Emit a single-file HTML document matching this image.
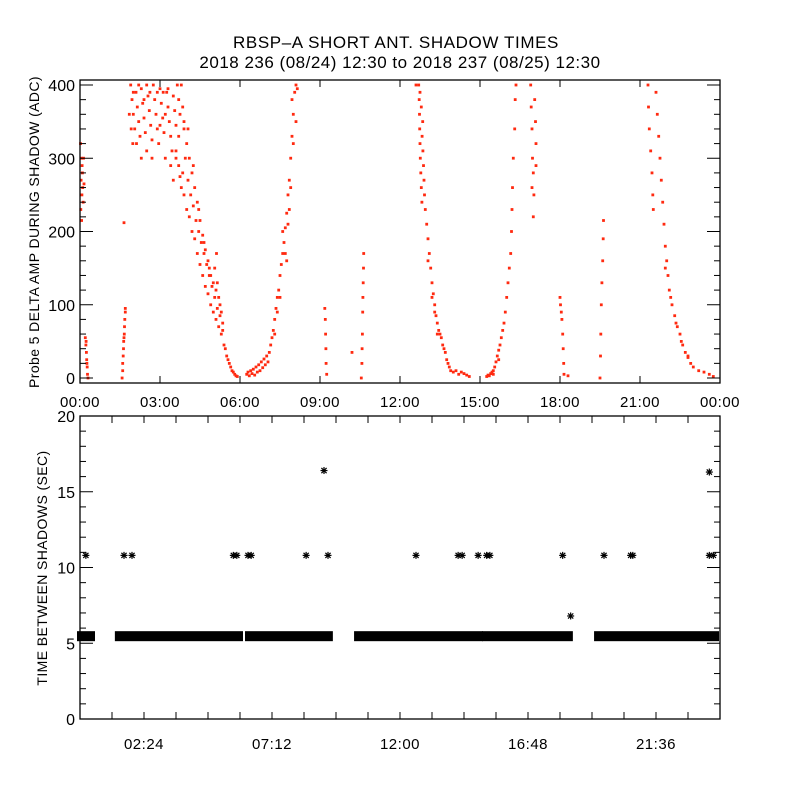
<!DOCTYPE html>
<html><head><meta charset="utf-8">
<style>
html,body{margin:0;padding:0;background:#fff;}
svg{display:block;font-family:"Liberation Sans",sans-serif;}
</style></head>
<body>
<svg id="chart" width="800" height="800" viewBox="0 0 800 800" xmlns="http://www.w3.org/2000/svg">
<rect width="800" height="800" fill="#fff"/>
<text x="396" y="48" font-size="17" text-anchor="middle" letter-spacing="0.6">RBSP–A SHORT ANT. SHADOW TIMES</text>
<text x="400" y="68" font-size="17" text-anchor="middle" letter-spacing="0.5">2018 236 (08/24) 12:30 to 2018 237 (08/25) 12:30</text>
<g id="top"></g>
<g id="bot"></g>
<text transform="translate(39,232) rotate(-90)" font-size="14" text-anchor="middle" letter-spacing="0.4">Probe 5 DELTA AMP DURING SHADOW (ADC)</text>
<text transform="translate(47,568) rotate(-90)" font-size="14" text-anchor="middle" letter-spacing="0.4">TIME BETWEEN SHADOWS (SEC)</text>
</svg>
<script>
// ---- top panel data: [hour, ADC value] ----
const ampPoints = [
[0.02,320],[0.05,300],[0.08,290],[0.04,270],[0.1,260],[0.07,250],[0.12,240],[0.03,230],[0.09,280],[0.13,300],[0.15,265],[0.06,215],
[0.2,55],[0.22,45],[0.24,35],[0.25,25],[0.27,15],[0.28,5],[0.3,0],[0.23,50],[0.26,20],
[1.58,0],[1.6,10],[1.6,20],[1.62,30],[1.63,40],[1.64,50],[1.66,60],[1.67,70],[1.68,80],[1.7,90],[1.7,95],[1.65,55],
[1.9,400],[1.95,380],[2.0,360],[2.05,340],[1.98,320],[2.1,390],[2.15,370],[2.2,350],[2.25,330],[2.3,395],[2.35,375],[2.4,355],[2.45,335],[2.5,310],[2.55,385],[2.6,365],[2.65,345],[2.7,325],[2.75,400],[2.8,380],[2.85,360],[2.9,340],[2.95,320],[3.0,395],[3.05,375],[3.1,355],[3.15,335],[3.2,300],[3.25,390],[3.3,370],[3.35,350],[3.4,330],[3.45,310],[3.5,385],[3.55,365],[3.6,345],[3.65,400],[3.7,380],[3.75,360],[2.3,300],[2.0,390],[2.5,400],[3.0,345],[3.4,290],[3.5,270],[3.6,300],[3.7,330],[3.8,400],[3.85,370],[3.9,340],[2.7,300],[2.2,400],[1.92,340],[2.4,380],[2.9,390],[3.2,360],[3.3,395],[1.85,360],[2.12,320],[2.62,390],[3.12,390],[1.65,212],
[3.6,310],[3.7,290],[3.75,275],[3.8,260],[3.85,280],[3.9,250],[3.95,300],[4.0,230],[4.05,270],[4.1,220],[4.15,250],[4.2,200],[4.25,235],[4.3,190],[4.35,215],[4.4,170],[4.45,200],[4.5,155],[4.55,185],[4.6,140],[4.65,170],[4.7,125],[4.75,155],[4.8,115],[4.85,140],[4.9,100],[4.95,125],[5.0,90],[5.05,110],[5.1,80],[5.15,95],[5.2,70],[5.25,85],[5.3,60],[5.35,65],[5.4,45],[5.45,40],[5.5,30],[5.55,25],[5.6,20],[5.65,15],[5.7,10],[5.75,8],[5.8,5],[5.85,3],[5.9,2],
[3.9,350],[4.0,320],[4.1,300],[4.2,280],[4.3,260],[4.4,240],[4.5,215],[4.6,195],[4.7,175],[4.8,160],[4.9,140],[5.0,130],[5.1,120],[5.2,110],[5.3,90],[5.35,75],[4.05,340],[4.25,290],[4.45,230],[4.65,185],[4.85,150],[5.25,100],[5.12,170],[5.05,150],[5.15,130],
[6.25,5],[6.3,8],[6.35,3],[6.4,10],[6.45,6],[6.5,12],[6.55,4],[6.6,15],[6.65,8],[6.7,18],[6.75,10],[6.8,22],[6.85,14],[6.9,26],[6.95,18],[7.0,30],[7.05,22],[7.1,35],
[7.15,45],[7.2,55],[7.25,65],[7.3,80],[7.35,95],[7.4,110],[7.45,120],[7.5,140],[7.55,155],[7.6,170],[7.65,185],[7.7,205],[7.75,225],[7.8,250],[7.85,270],[7.9,300],[7.95,330],[8.0,360],[8.05,390],[8.1,400],[7.5,110],[7.6,200],[7.7,170],[7.8,210],[7.9,260],[8.0,320],[7.95,380],[8.1,350],[7.4,90],[7.3,60],[8.15,395],[7.75,160],[7.85,230],
[9.18,95],[9.2,80],[9.21,60],[9.22,40],[9.23,20],[9.25,5],
[10.55,0],[10.57,20],[10.58,40],[10.59,60],[10.6,90],[10.61,110],[10.62,130],[10.63,150],[10.64,170],[10.2,35],
[12.7,400],[12.72,380],[12.73,360],[12.74,340],[12.75,320],[12.76,300],[12.78,280],[12.8,260],[12.82,240],[12.75,390],[12.8,370],[12.85,350],[12.83,330],[12.86,310],[12.88,290],[12.9,270],[12.92,250],[12.95,230],[13.0,210],[13.05,190],[13.1,170],[13.15,150],[13.2,130],[13.25,115],[13.3,100],[13.35,85],[13.4,75],[13.45,65],[13.5,60],[13.55,55],[13.6,45],[13.65,40],[13.7,35],[13.75,25],[13.8,20],[13.85,15],[13.9,10],[14.0,8],[14.1,10],[14.2,5],[14.3,8],[14.4,6],[14.5,4],[14.6,2],[13.05,160],[13.2,110],[13.3,90],[13.4,60],[12.6,400],
[15.25,2],[15.3,4],[15.35,3],[15.4,6],[15.45,8],[15.5,10],[15.55,15],[15.6,22],[15.65,30],[15.7,38],[15.75,45],[15.8,55],[15.85,65],[15.9,75],[15.95,90],[16.0,110],[16.05,130],[16.1,150],[16.15,170],[16.18,200],[16.2,230],[16.22,260],[16.25,300],[16.3,340],[16.32,380],[16.35,400],[15.5,5],[15.7,25],
[16.9,400],[16.92,370],[16.95,340],[16.97,300],[17.0,280],[17.02,250],[17.0,220],[17.05,380],[17.08,350],[17.1,320],[17.1,290],[16.95,260],
[18.0,110],[18.02,100],[18.05,90],[18.07,80],[18.1,60],[18.12,40],[18.14,20],[18.15,5],[18.3,3],
[19.5,0],[19.52,30],[19.53,60],[19.55,100],[19.57,130],[19.6,160],[19.62,190],[19.63,215],
[21.3,400],[21.32,370],[21.35,340],[21.4,310],[21.45,280],[21.48,250],[21.5,230],[21.6,390],[21.65,360],[21.7,330],[21.75,300],[21.8,270],[21.85,240],[21.9,210],[21.95,180],[22.0,160],[22.05,140],[22.1,120],[22.2,100],[22.3,85],[22.4,70],[22.5,60],[22.6,45],[22.7,35],[22.8,28],[22.9,20],[23.0,15],[23.2,10],[23.4,8],[23.6,5],[23.75,2],[21.95,150],[22.15,110],[22.35,75],[22.55,50],[22.8,30]
];
const topXTickLabels = ["00:00","03:00","06:00","09:00","12:00","15:00","18:00","21:00","00:00"];
const topYTicks = [0,100,200,300,400];
// ---- bottom panel data ----
const denseStart = [0.0,1.42,6.3,10.39,15.19,19.39];
const denseEnd   = [0.45,6.0,9.37,15.0,18.37,23.85];
const denseValue = 5.5;
const outlierHours  = [0.22,1.65,1.95,5.75,5.88,6.3,6.42,8.48,9.3,12.6,14.18,14.33,14.93,15.25,15.37,18.1,19.65,20.65,20.73,23.6,23.75,9.15,23.6,18.4];
const outlierValues = [10.8,10.8,10.8,10.8,10.8,10.8,10.8,10.8,10.8,10.8,10.8,10.8,10.8,10.8,10.8,10.8,10.8,10.8,10.8,10.8,10.8,16.4,16.3,6.8];
const botXTickLabels = ["02:24","07:12","12:00","16:48","21:36"];
const botYTicks = [0,5,10,15,20];

const NS="http://www.w3.org/2000/svg";
function mk(tag,attrs,parent){const e=document.createElementNS(NS,tag);for(const k in attrs)e.setAttribute(k,attrs[k]);parent.appendChild(e);return e;}
const L=80,R=720;
const xs=h=>L+(R-L)*h/24;
// top axes
const T=document.getElementById('top');
const tY=v=>378-v*293/400;
const tTop=80,tBot=383;
for(const p of ampPoints){
  const d=mk('rect',{x:(xs(p[0])-1.4).toFixed(1),y:(Math.max(tTop+1,tY(p[1]))-1.4).toFixed(1),width:2.8,height:2.8,fill:'#ff2a10'},T);
  
  
}
const tf=mk('rect',{x:L,y:tTop,width:R-L,height:tBot-tTop,fill:'none',stroke:'#000','stroke-width':1.3},T);


for(let v=0;v<=400;v+=20){const big=v%100===0,len=big?13:6;
  mk('line',{x1:L,x2:L+len,y1:tY(v),y2:tY(v),stroke:'#000'},T);
  mk('line',{x1:R,x2:R-len,y1:tY(v),y2:tY(v),stroke:'#000'},T);}
topYTicks.forEach(v=>{const t=mk('text',{x:L-5,y:tY(v)+6,'font-size':16,'text-anchor':'end'},T);t.textContent=v;
  
  });
topXTickLabels.forEach((s,i)=>{const x=xs(i*3);
  mk('line',{x1:x,x2:x,y1:tBot,y2:tBot-7,stroke:'#000'},T);
  mk('line',{x1:x,x2:x,y1:tTop,y2:tTop+7,stroke:'#000'},T);
  const t=mk('text',{x:x,y:407,'font-size':15,'text-anchor':'middle','letter-spacing':0.5},T);t.textContent=s;
  
  });
// bottom
const B=document.getElementById('bot');
const bTop=416,bBot=719;
const bY=v=>bBot-v*(bBot-bTop)/20;
for(let i=0;i<denseStart.length;i++){
  const r=mk('rect',{x:xs(denseStart[i])-3,y:bY(denseValue)-4.5,width:xs(denseEnd[i])-xs(denseStart[i])+6,height:10,fill:'#000'},B);
  
  
}
function star(x,y){const g=mk('g',{stroke:'#000','stroke-width':1.2},B);
  mk('line',{x1:x-3.5,x2:x+3.5,y1:y,y2:y},g);mk('line',{x1:x,x2:x,y1:y-3.5,y2:y+3.5},g);
  mk('line',{x1:x-2.6,x2:x+2.6,y1:y-2.6,y2:y+2.6},g);mk('line',{x1:x-2.6,x2:x+2.6,y1:y+2.6,y2:y-2.6},g);return g;}
for(let i=0;i<outlierHours.length;i++){
  const g=star(xs(outlierHours[i]),bY(outlierValues[i]));
  
  
}
const bf=mk('rect',{x:L,y:bTop,width:R-L,height:bBot-bTop,fill:'none',stroke:'#000','stroke-width':1.3},B);


for(let v=0;v<=20;v++){const big=v%5===0,len=big?13:6;
  mk('line',{x1:L,x2:L+len,y1:bY(v),y2:bY(v),stroke:'#000'},B);
  mk('line',{x1:R,x2:R-len,y1:bY(v),y2:bY(v),stroke:'#000'},B);}
botYTicks.forEach(v=>{const t=mk('text',{x:L-5,y:bY(v)+6,'font-size':16,'text-anchor':'end'},B);t.textContent=v;
  
  });
for(let k=1;k<20;k++){const x=xs(k*1.2);
  mk('line',{x1:x,x2:x,y1:bBot,y2:bBot-7,stroke:'#000'},B);
  mk('line',{x1:x,x2:x,y1:bTop,y2:bTop+7,stroke:'#000'},B);}
botXTickLabels.forEach((s,i)=>{const t=mk('text',{x:xs(2.4+i*4.8),y:749,'font-size':15,'text-anchor':'middle','letter-spacing':0.5},B);t.textContent=s;
  
  });
</script>
</body></html>
